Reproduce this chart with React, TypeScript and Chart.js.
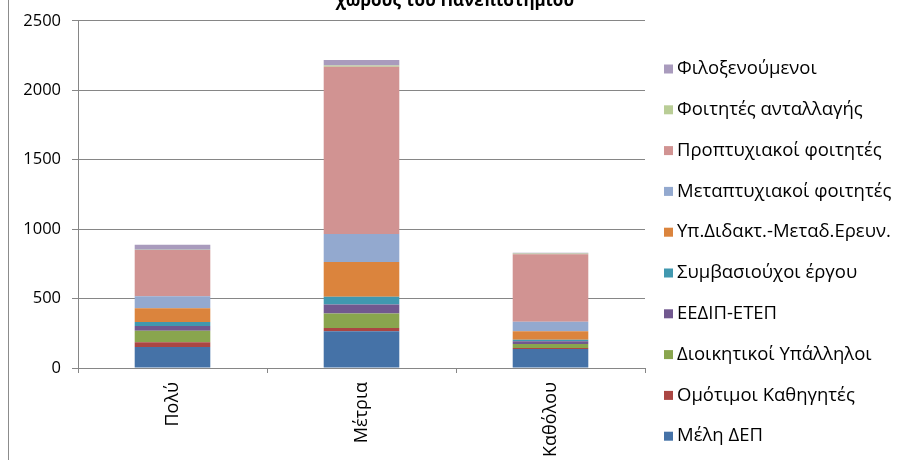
import React, { useEffect, useRef } from "react";
import { Chart, registerables } from "chart.js";

Chart.register(...registerables);

const categories = ["Πολύ", "Μέτρια", "Καθόλου"];

const meliDEP = [152, 265, 137];
const omotimoi = [33, 24, 7];
const dioikitikoi = [83, 104, 29];
const eedip = [34, 64, 19];
const symvasiouxoi = [30, 57, 12];
const ypDidakt = [98, 249, 61];
const metaptyxiakoi = [87, 202, 69];
const proptyxiakoi = [332, 1204, 486];
const antallagis = [3, 9, 5];
const filoxenoumenoi = [36, 41, 5];

const seriesLabels = [
  "Μέλη ΔΕΠ",
  "Ομότιμοι Καθηγητές",
  "Διοικητικοί Υπάλληλοι",
  "ΕΕΔΙΠ-ΕΤΕΠ",
  "Συμβασιούχοι έργου",
  "Υπ.Διδακτ.-Μεταδ.Ερευν.",
  "Μεταπτυχιακοί φοιτητές",
  "Προπτυχιακοί φοιτητές",
  "Φοιτητές ανταλλαγής",
  "Φιλοξενούμενοι",
];
const seriesData = [
  meliDEP,
  omotimoi,
  dioikitikoi,
  eedip,
  symvasiouxoi,
  ypDidakt,
  metaptyxiakoi,
  proptyxiakoi,
  antallagis,
  filoxenoumenoi,
];
const seriesColors = [
  "#4572A7",
  "#AA4643",
  "#89A54E",
  "#71588F",
  "#4198AF",
  "#DB843D",
  "#93A9CF",
  "#D19392",
  "#B9CD96",
  "#A99BBD",
];

const yTicks = [0, 500, 1000, 1500, 2000, 2500];
const titleText = "χώρους του Πανεπιστημίου";

const FONT = "'Open Sans', 'Noto Sans', sans-serif";
const GRID = "#868686";

export default function App() {
  const ref = useRef<HTMLCanvasElement | null>(null);

  useEffect(() => {
    document.body.style.margin = "0";
    const canvas = ref.current;
    if (!canvas) return;

    const decor = {
      id: "decor",
      afterDraw(chart: any) {
        const ctx = chart.ctx;
        ctx.save();
        ctx.strokeStyle = "#8c8c8c";
        ctx.lineWidth = 1;
        ctx.beginPath();
        ctx.moveTo(8.5, 0);
        ctx.lineTo(8.5, 460);
        ctx.stroke();
        ctx.fillStyle = "#000";
        ctx.font = `bold 17px ${FONT}`;
        ctx.textAlign = "center";
        ctx.textBaseline = "alphabetic";
        ctx.fillText(titleText, 455, 6);
        ctx.font = `18.5px ${FONT}`;
        ctx.textAlign = "left";
        ctx.textBaseline = "middle";
        const n = chart.data.datasets.length;
        for (let i = 0; i < n; i++) {
          const ds = chart.data.datasets[n - 1 - i];
          const cy = 69 + i * 40.8;
          ctx.fillStyle = ds.backgroundColor as string;
          ctx.fillRect(664, cy - 4.5, 9, 9);
          ctx.fillStyle = "#000";
          ctx.fillText(ds.label, 677, cy);
        }
        ctx.restore();
      },
    };

    const chart = new Chart(canvas, {
      type: "bar",
      data: {
        labels: categories,
        datasets: seriesLabels.map((label, i) => ({
          label,
          data: seriesData[i],
          backgroundColor: seriesColors[i],
          borderWidth: 0,
          categoryPercentage: 1,
          barPercentage: 0.4,
        })),
      },
      options: {
        responsive: false,
        animation: false,
        devicePixelRatio: 1,
        layout: { padding: { top: 17, right: 265, left: 0, bottom: 0 } },
        plugins: {
          legend: { display: false },
          title: { display: false },
          tooltip: { enabled: false },
        },
        scales: {
          x: {
            stacked: true,
            offset: true,
            grid: {
              offset: true,
              drawOnChartArea: false,
              drawTicks: true,
              tickLength: 5,
              color: GRID,
            },
            border: { display: true, color: GRID },
            ticks: {
              minRotation: 90,
              maxRotation: 90,
              padding: 9,
              color: "#000",
              font: { family: FONT, size: 18 },
            },
            afterFit(scale: any) {
              scale.height = 92;
            },
          },
          y: {
            stacked: true,
            min: 0,
            max: 2500,
            afterBuildTicks(scale: any) {
              scale.ticks = yTicks.map((v) => ({ value: v }));
            },
            grid: {
              color: GRID,
              tickLength: 6,
              drawTicks: true,
            },
            border: { display: true, color: GRID },
            ticks: {
              padding: 11,
              color: "#000",
              font: { family: FONT, size: 16.5 },
              callback: (v: any) => String(v),
            },
            afterFit(scale: any) {
              scale.width = 78;
            },
          },
        },
      },
      plugins: [decor],
    });

    return () => chart.destroy();
  }, []);

  return (
    <div style={{ width: 910, height: 460, position: "relative", background: "#fff" }}>
      <canvas ref={ref} width={910} height={460} style={{ width: 910, height: 460, display: "block" }} />
    </div>
  );
}
